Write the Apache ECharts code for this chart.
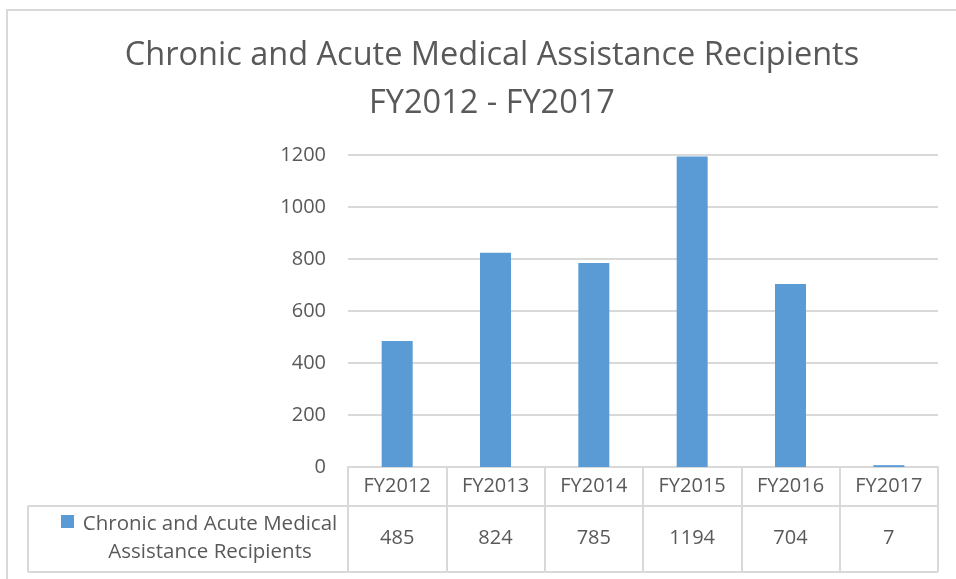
<!DOCTYPE html>
<html>
<head>
<meta charset="utf-8">
<title>Chronic and Acute Medical Assistance Recipients</title>
<script src="https://cdn.jsdelivr.net/npm/echarts@6/dist/echarts.min.js"></script>
<style>
  html, body { margin: 0; padding: 0; background: #fff; }
  #chart { width: 956px; height: 579px; }
</style>
</head>
<body>
<div id="chart"></div>
<script>
var categories = ['FY2012', 'FY2013', 'FY2014', 'FY2015', 'FY2016', 'FY2017'];
var recipients = [485, 824, 785, 1194, 704, 7];
var seriesName = 'Chronic and Acute Medical Assistance Recipients';
var seriesLines = ['Chronic and Acute Medical', 'Assistance Recipients'];
var yTicks = [0, 200, 400, 600, 800, 1000, 1200];

var FONT = '"Open Sans", sans-serif';
var TEXT = '#595959';
var LINE = '#d9d9d9';
var BAR = '#5b9bd5';

var myChart = echarts.init(document.getElementById('chart'));
var option = {
    animation: false,
    title: {
        text: 'Chronic and Acute Medical Assistance Recipients\nFY2012 - FY2017',
        left: 487,
        textAlign: 'center',
        top: 27,
        textStyle: {
            color: TEXT,
            fontFamily: FONT,
            fontWeight: 'normal',
            fontSize: 32.5,
            lineHeight: 48
        }
    },
    grid: {                 // plot area
        left: 348,
        right: 18,
        top: 155,
        bottom: 112
    },
    xAxis: [
        {
            type: 'category',
            data: categories,
            axisLine: {lineStyle: {color: LINE, width: 2}},
            axisTick: {show: true, length: 105, lineStyle: {color: LINE, width: 2}},
            axisLabel: {color: TEXT, fontFamily: FONT, fontSize: 20, margin: 9}
        },
        {
            type: 'category',
            data: categories,
            position: 'bottom',
            offset: 0,
            axisLine: {show: false},
            axisTick: {show: false},
            axisLabel: {
                color: TEXT, fontFamily: FONT, fontSize: 20, margin: 61,
                formatter: function (v, i) { return String(recipients[i]); }
            }
        }
    ],
    yAxis: {
        type: 'value',
        min: yTicks[0],
        max: yTicks[yTicks.length - 1],
        interval: 200,
        axisLine: {show: false},
        axisTick: {show: false},
        axisLabel: {color: TEXT, fontFamily: FONT, fontSize: 20, margin: 22,
                    formatter: function (v) { return String(v); }},
        splitLine: {lineStyle: {color: LINE, width: 2}}
    },
    series: [
        {
            name: seriesName,
            type: 'bar',
            barWidth: 31,
            itemStyle: {color: BAR},
            data: recipients
        }
    ],
    graphic: [
        // outer chart border
        {type: 'rect', shape: {x: 7, y: 10, width: 1000, height: 1000},
         style: {fill: 'none', stroke: LINE, lineWidth: 2}},
        // data table lines
        {type: 'line', shape: {x1: 28, y1: 506, x2: 938, y2: 506}, style: {stroke: LINE, lineWidth: 2}},
        {type: 'line', shape: {x1: 28, y1: 572, x2: 938, y2: 572}, style: {stroke: LINE, lineWidth: 2}},
        {type: 'line', shape: {x1: 28, y1: 506, x2: 28, y2: 572}, style: {stroke: LINE, lineWidth: 2}},
        // legend key
        {type: 'rect', shape: {x: 61, y: 515, width: 13, height: 13}, style: {fill: BAR}},
        {type: 'text', x: 210, y: 538,
         style: {text: seriesLines.join('\n'), fill: TEXT, font: '20.5px ' + FONT,
                 align: 'center', verticalAlign: 'middle', lineHeight: 28}}
    ]
};

myChart.setOption(option);
</script>
</body>
</html>
